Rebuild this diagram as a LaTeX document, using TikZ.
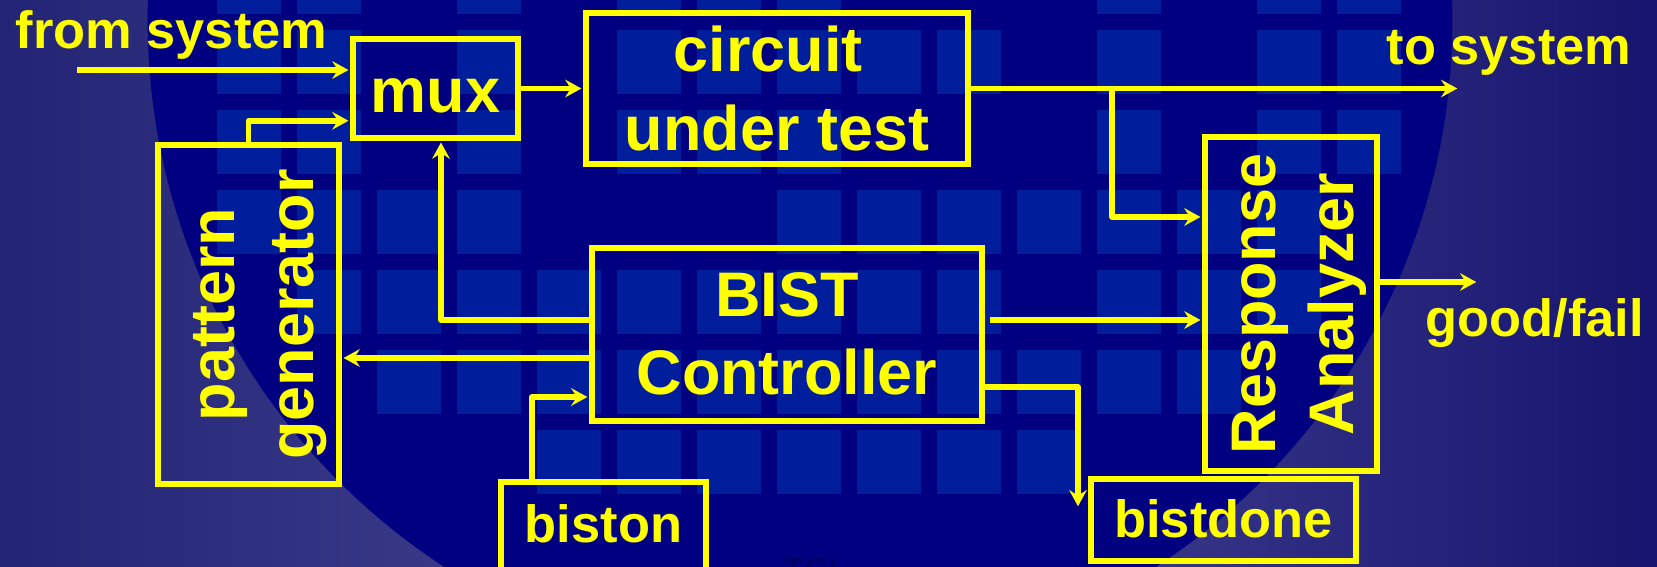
\documentclass[tikz,border=0pt]{standalone}
\usepackage{fontspec}
\setmainfont{Liberation Sans}
\usepackage{tikz}
\usetikzlibrary{arrows.meta, calc, positioning}
\definecolor{slidenavy}{RGB}{0, 0, 128}
\definecolor{tileblue}{RGB}{0, 30, 155}
\definecolor{edgeleft}{RGB}{36, 36, 118}
\definecolor{edgemid}{RGB}{74, 74, 150}
\definecolor{edgeright}{RGB}{23, 20, 111}
\definecolor{bistyellow}{RGB}{255, 255, 0}
\definecolor{tcldark}{RGB}{0, 0, 96}

\tikzset{
  blk/.style={draw=bistyellow, line width=1.56pt, inner sep=0pt, text=bistyellow, align=center,
    font=\fontsize{17.9}{22.2}\selectfont\bfseries},
  sig/.style={draw=bistyellow, line width=1.56pt, line join=round,
    -{Stealth[length=4.6pt, width=5pt, inset=1.6pt]}, shorten >=0.5pt},
  sidelabel/.style={text=bistyellow, inner sep=0pt, anchor=base west,
    font=\fontsize{14.9}{18}\selectfont\bfseries}
}

\begin{document}
\begin{tikzpicture}[x=0.01cm, y=-0.01cm]
    \useasboundingbox (0,0) rectangle (1657,567);
    % slide background
    \shade[left color=edgeleft, right color=edgeright, middle color=edgemid] (0,0) rectangle (1657,567);
    \fill[slidenavy] (800,20) circle[radius=6.52cm];
    \begin{scope}
        \clip (800,20) circle[radius=6.52cm];
        \foreach \r/\cols in {-1/{1,2,4,8,10,11,15}, 0/{1,2,4,6,7,8,12,14,15},
                1/{1,2,4,6,7,8,9,10,12,14,15}, 2/{1,2,4,6,7,8,12,14,15},
                3/{1,2,3,4,8,9,10,11,12,13,14}, 4/{2,3,4,5,6,7,8,9,10,12,13,14},
                5/{3,4,5,6,7,8,9,10,11,12,13}, 6/{5,6,7,8,9,10,11}} {
            \foreach \k in \cols {
                \fill[tileblue] (137+80*\k, -50+80*\r) rectangle ++(64,64);
            }
        }
    \end{scope}
    \node[font=\fontsize{9.8}{12}\selectfont, text=tcldark, inner sep=0pt, anchor=base west] (tcl) at (782,582) {TCL};

    % blocks
    \node[blk, minimum width=1.65cm, minimum height=0.99cm, text height=13.9pt, text depth=0pt] (mux) at (435.5,88.5) {mux};
    \node[blk, minimum width=3.82cm, minimum height=1.51cm, text height=35pt, text depth=0pt] (cut) at (777,88.5) {circuit\kern.28em\\under test};
    \node[blk, rotate=90, minimum width=3.39cm, minimum height=1.81cm, text height=40.4pt, text depth=3.7pt] (pg) at (248.5,314.5) {pattern\\generator};
    \node[blk, minimum width=3.9cm, minimum height=1.73cm, text height=34.4pt, text depth=0pt] (bist) at (787,334.5) {BIST\\Controller};
    \node[blk, rotate=90, minimum width=3.34cm, minimum height=1.72cm, text height=39.5pt, text depth=3.7pt] (ra) at (1291,304) {Response\\Analyzer};
    \node[blk, font=\fontsize{14.9}{18}\selectfont\bfseries, minimum width=2.05cm, minimum height=1.2cm, text height=0pt, text depth=0pt] (biston) at (603.5,542) {biston};
    \node[blk, font=\fontsize{14.9}{18}\selectfont\bfseries, minimum width=2.65cm, minimum height=0.82cm, text height=9.7pt, text depth=0pt] (bistdone) at (1223.5,520) {bistdone};

    \node[sidelabel] (fromsys) at (15,49) {from system};
    \node[sidelabel] (tosys) at (1386,65) {to system};
    \node[sidelabel] (goodfail) at (1425,337) {good/fail};

    % signals
    \coordinate (sysin) at (77,70);
    \draw[sig] (sysin) -- (sysin -| mux.west);
    \draw[sig] (pg.east) |- ($(mux.south west)+(0,-20)$);
    \draw[sig] (mux.east) -- (cut.west);
    \coordinate (sysout) at (1459,88.5);
    \draw[sig] (cut.east) -- (sysout);
    \coordinate (tap) at (1112,88.5);
    \draw[sig] (tap) |- ($(ra.north)+(0,-87)$);
    \draw[sig] ($(bist.west)+(0,-14.5)$) -| ($(mux.south)+(5.5,0)$);
    \draw[sig] ($(bist.west)+(0,23.5)$) coordinate (pgin) -- (pgin -| pg.south);
    \draw[sig] ($(biston.north)+(-71.5,0)$) |- ($(bist.west)+(0,62.5)$);
    \draw[sig] ($(bist.east)+(5,-14.5)$) coordinate (rain) -- (rain -| ra.north);
    \coordinate (doneend) at (1078,508);
    \draw[sig] ($(bist.east)+(0,52.5)$) -| (doneend);
    \coordinate (verdict) at (1478,282);
    \draw[sig] ($(ra.south)+(0,-22)$) -- (verdict);
\end{tikzpicture}
\end{document}
